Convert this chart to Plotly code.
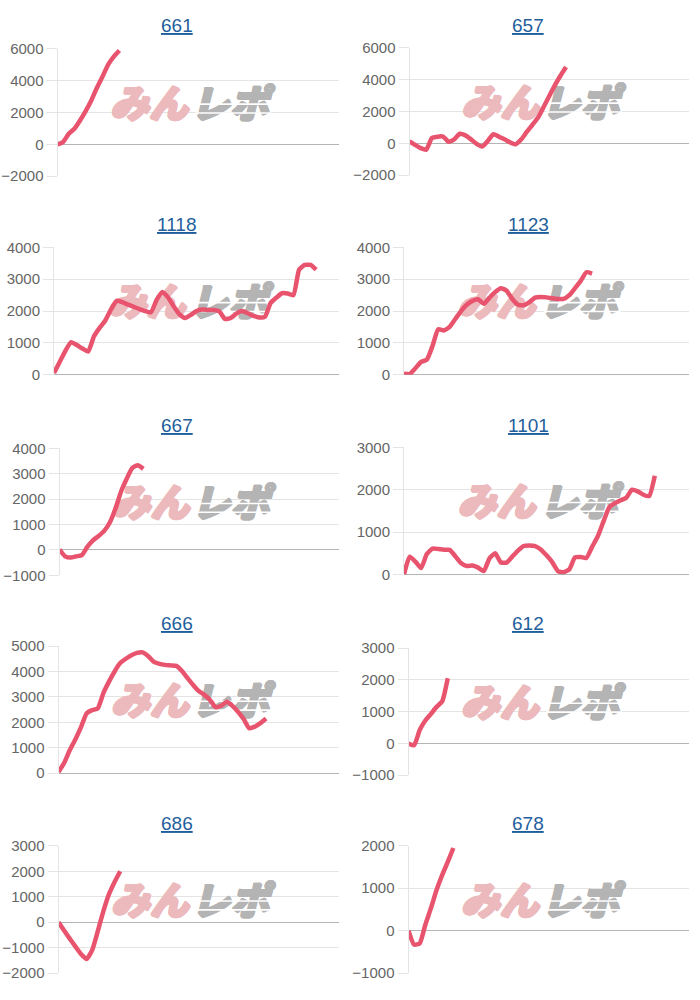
import plotly.graph_objects as go

# ---------------- data ----------------
titles = ["661", "657", "1118", "1123", "667", "1101", "666", "612", "686", "678"]

s661 = [0, 150, 670, 980, 1500, 2090, 2760, 3560, 4270, 5020, 5520, 5900]
s657 = [125, -100, -300, -400, 330, 420, 430, 100, 250, 600, 500, 250, -30, -200,
        150, 580, 420, 250, 60, -60, 250, 730, 1170, 1620, 2290, 2980, 3650, 4250, 4800]
s1118 = [50, 400, 750, 1020, 930, 820, 730, 1200, 1470, 1700, 2050, 2320, 2280, 2200,
         2130, 2060, 2000, 1960, 2350, 2600, 2430, 2150, 1900, 1780, 1880, 2000, 2050,
         2030, 2030, 1990, 1750, 1780, 1920, 2000, 1930, 1850, 1800, 1820, 2250, 2420,
         2560, 2550, 2500, 3300, 3450, 3450, 3300]
s1123 = [30, 20, 200, 400, 470, 900, 1430, 1390, 1500, 1750, 2000, 2200, 2320, 2370,
         2230, 2420, 2600, 2720, 2640, 2380, 2200, 2180, 2280, 2420, 2440, 2430, 2400,
         2380, 2380, 2500, 2720, 2950, 3220, 3180]
s667 = [20, -250, -300, -250, -200, 130, 380, 550, 750, 1080, 1620, 2290, 2790, 3220,
        3330, 3190]
s1101 = [0, 420, 300, 150, 480, 610, 600, 580, 580, 430, 270, 200, 210, 160, 80, 380,
         500, 280, 280, 420, 560, 670, 680, 670, 590, 450, 290, 80, 50, 120, 400, 410,
         390, 650, 900, 1250, 1580, 1680, 1750, 1810, 2000, 1960, 1880, 1850, 2330]
s666 = [50, 400, 900, 1330, 1800, 2350, 2480, 2550, 3150, 3600, 4000, 4330, 4500, 4640,
        4730, 4750, 4600, 4380, 4300, 4260, 4240, 4220, 4020, 3740, 3470, 3230, 3080,
        2880, 2600, 2650, 2810, 2650, 2420, 2130, 1770, 1830, 1970, 2150]
s612 = [0, -60, 425, 720, 930, 1150, 1320, 2050]
s686 = [0, -330, -650, -950, -1250, -1450, -1100, -360, 430, 1100, 1580, 2000]
s678 = [0, -330, -300, 140, 530, 960, 1310, 1620, 1950]

series = [s661, s657, s1118, s1123, s667, s1101, s666, s612, s686, s678]

y_min = [-2000, -2000, 0, 0, -1000, 0, 0, -1000, -2000, -1000]
y_max = [6000, 6000, 4000, 4000, 4000, 3000, 5000, 3000, 3000, 2000]
y_step = [2000, 2000, 1000, 1000, 1000, 1000, 1000, 1000, 1000, 1000]

X_SLOTS = 50  # length of the shared category axis

# ---------------- layout geometry (target pixels) ----------------
W, H = 700, 1000
plot_left = [57.5, 409.5, 54, 404, 59.5, 404, 58.5, 408.5, 58.5, 408.5]
plot_right = [339, 689]
plot_top = [48, 47, 246.7, 246.7, 447.7, 446.7, 645.7, 647.7, 845.7, 845.7]
plot_h = 127.3
title_y = [25, 25, 224, 224, 425, 425, 623, 623, 823, 823]
title_x = [177, 528]

# the page is rendered with a small vertical inset; map target px -> layout px
V_OFF, V_SCALE = 8.0, 0.984


def vpx(p):
    return (p - V_OFF) / V_SCALE


LINE_COLOR = "#e8536e"
GRID = "#e4e4e4"
ZERO = "#b4b4b4"
TICK_FONT = dict(family="Liberation Sans, Arial, sans-serif", size=15, color="#666666")
PINK_WM = "#ecb9bc"
GRAY_WM = "#b4b4b4"


def thick(c):
    return f"1px 0 0 {c}, -1px 0 0 {c}, 0 1px 0 {c}, 0 -1px 0 {c}, 1px 1px 0 {c}, -1px -1px 0 {c}"


fig = go.Figure()
annotations = []

for i, (name, vals) in enumerate(zip(titles, series)):
    col = i % 2
    n = i + 1
    xa = "x" if n == 1 else f"x{n}"
    ya = "y" if n == 1 else f"y{n}"
    xkey = "xaxis" if n == 1 else f"xaxis{n}"
    ykey = "yaxis" if n == 1 else f"yaxis{n}"

    x0 = plot_left[i] / W
    x1 = plot_right[col] / W
    ytop = 1 - vpx(plot_top[i]) / H
    ybot = 1 - vpx(plot_top[i] + plot_h) / H

    # watermark (drawn first so the line sits on top)
    lo, hi = y_min[i], y_max[i]
    per_px = (hi - lo) / (plot_h / V_SCALE)
    wy = lo + 0.535 * (hi - lo)
    fig.add_trace(go.Scatter(
        x=[0.325 * X_SLOTS], y=[wy], mode="text", text=["みん"],
        textfont=dict(family="Noto Sans CJK JP", size=39, color=PINK_WM,
                      weight=900, style="italic", shadow=thick(PINK_WM)),
        xaxis=xa, yaxis=ya, hoverinfo="skip", showlegend=False, cliponaxis=False))
    fig.add_trace(go.Scatter(
        x=[0.612 * X_SLOTS], y=[wy], mode="text", text=["レポ"],
        textfont=dict(family="Noto Sans CJK JP", size=39, color=GRAY_WM,
                      weight=900, style="italic", shadow=thick(GRAY_WM)),
        xaxis=xa, yaxis=ya, hoverinfo="skip", showlegend=False, cliponaxis=False))
    # speed-line cuts through the gray part of the logo
    for dy in (-5, 4):
        fig.add_trace(go.Scatter(
            x=[0.49 * X_SLOTS, 0.76 * X_SLOTS], y=[wy + dy * per_px] * 2, mode="lines",
            line=dict(color="white", width=1.6),
            xaxis=xa, yaxis=ya, hoverinfo="skip", showlegend=False))

    fig.add_trace(go.Scatter(
        x=list(range(len(vals))), y=vals, mode="lines",
        line=dict(color=LINE_COLOR, width=4.5, shape="spline", smoothing=0.5),
        xaxis=xa, yaxis=ya, hoverinfo="skip", showlegend=False))

    fig.update_layout({
        xkey: dict(domain=[x0, x1], range=[0, X_SLOTS], showgrid=False, zeroline=False,
                   showticklabels=False, showline=False, ticks="", anchor=ya,
                   fixedrange=True),
        ykey: dict(domain=[ybot, ytop], range=[lo, hi], tick0=0, dtick=y_step[i],
                   showgrid=True, gridcolor=GRID, gridwidth=1,
                   zeroline=True, zerolinecolor=ZERO, zerolinewidth=1,
                   showline=True, linecolor=GRID, linewidth=1,
                   ticks="outside", ticklen=10, tickcolor=GRID, tickwidth=1,
                   tickfont=TICK_FONT, anchor=xa, fixedrange=True),
    })

    annotations.append(dict(
        text=name, xref="paper", yref="paper",
        x=title_x[col] / W, y=1 - vpx(title_y[i]) / H,
        xanchor="center", yanchor="middle", showarrow=False,
        font=dict(family="Liberation Sans, Arial, sans-serif", size=19, color="#1f5f9c",
                  lineposition="under")))

fig.update_layout(
    width=W, height=H, margin=dict(l=0, r=0, t=0, b=0),
    paper_bgcolor="white", plot_bgcolor="white",
    showlegend=False, hovermode=False,
    annotations=annotations,
)

fig.write_html("out.html", config={"displayModeBar": False})
